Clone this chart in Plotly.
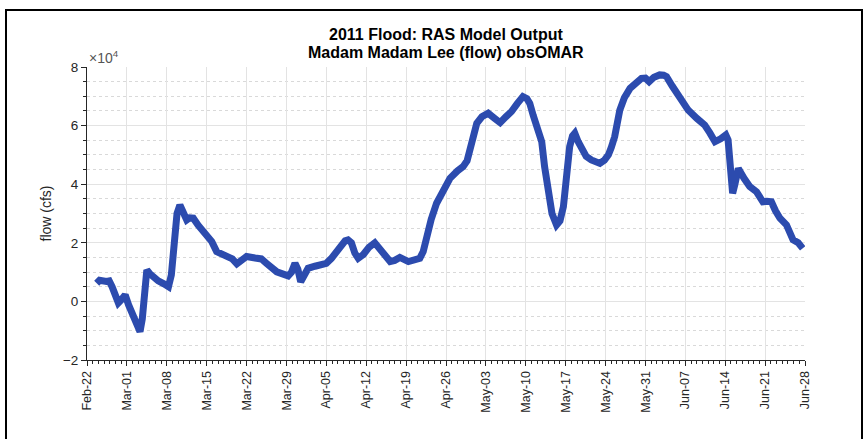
import pandas as pd
import plotly.graph_objects as go

# ---- data ----
start_date = "2011-02-22"
day_offset = [1.7, 2.2, 3.4, 3.9, 4.4, 5.0, 5.5, 6.0, 6.7, 7.3, 8.0, 8.7, 9.3, 9.7, 10.1, 10.5, 11.0, 11.6,
              12.5, 13.5, 14.3, 14.8, 15.3, 15.8, 16.3, 16.8, 17.5, 18.0, 18.65, 19.5, 20.7, 21.9, 22.75,
              24.0, 24.8, 25.5, 26.3, 27.0, 28.0, 29.5, 30.6, 31.5, 32.5, 33.3, 35.3, 35.9, 36.5, 37.0,
              37.5, 38.2, 38.8, 40.0, 40.9, 42.0, 42.9, 44.4, 45.3, 45.8, 46.4, 47.0, 47.6, 48.5, 49.5,
              50.5, 51.5, 53.2, 54.0, 54.9, 56.4, 57.5, 58.4, 59.0, 59.6, 60.4, 61.35, 62.5, 63.7, 65.0,
              66.0, 66.7, 67.2, 68.4, 69.3, 70.4, 71.5, 72.5, 73.5, 74.5, 75.5, 76.5, 77.2, 77.7, 78.3,
              78.9, 79.8, 80.3, 80.9, 81.6, 82.4, 83.0, 83.6, 84.2, 84.7, 85.2, 85.6, 86.2, 86.8, 87.6,
              88.5, 89.3, 90.0, 90.8, 91.5, 92.0, 92.6, 93.5, 94.3, 95.3, 96.3, 97.3, 98.0, 98.65, 99.5,
              100.5, 101.2, 101.7, 102.7, 103.7, 104.6, 105.5, 107.0, 108.4, 109.3, 110.2, 111.2, 112.1,
              112.5, 112.9, 113.3, 113.7, 114.3, 115.3, 116.3, 117.5, 118.6, 119.3, 120.1, 120.8, 121.6,
              122.75, 123.4, 123.9, 124.8, 125.6]
flow_1e4 = [0.62, 0.72, 0.68, 0.70, 0.50, 0.25, -0.05, 0.05, 0.22, -0.12, -0.5, -0.85, -1.03, -0.6, 0.3, 1.07, 0.95, 0.82,
            0.7, 0.6, 0.5, 0.9, 2.0, 3.0, 3.29, 3.1, 2.78, 2.85, 2.84, 2.6, 2.27, 2.04, 1.70,
            1.60, 1.53, 1.45, 1.28, 1.40, 1.53, 1.48, 1.45, 1.30, 1.10, 1.01, 0.87, 1.0, 1.30, 1.1,
            0.67, 0.95, 1.13, 1.20, 1.24, 1.30, 1.47, 1.87, 2.07, 2.10, 2.0, 1.65, 1.47, 1.6, 1.85,
            2.0, 1.75, 1.36, 1.40, 1.50, 1.36, 1.42, 1.47, 1.7, 2.21, 2.8, 3.35, 3.8, 4.20, 4.45,
            4.60, 4.8, 5.17, 6.08, 6.3, 6.42, 6.25, 6.10, 6.3, 6.48, 6.75, 6.99, 6.92, 6.76, 6.35,
            5.96, 5.45, 4.6, 3.80, 3.0, 2.61, 2.75, 3.23, 4.5, 5.28, 5.65, 5.74, 5.45, 5.22, 4.95,
            4.83, 4.75, 4.71, 4.82, 5.0, 5.25, 5.62, 6.53, 6.95, 7.27, 7.47, 7.61, 7.62, 7.50, 7.65,
            7.73, 7.72, 7.67, 7.35, 7.04, 6.78, 6.53, 6.25, 6.02, 5.75, 5.45, 5.55, 5.68,
            5.51, 4.6, 3.69, 4.0, 4.54, 4.2, 3.92, 3.74, 3.40, 3.42, 3.40, 3.1, 2.84,
            2.61, 2.3, 2.10, 2.0, 1.81]
y_ticks = [-2, 0, 2, 4, 6, 8]
title_lines = ["2011 Flood: RAS Model Output", "Madam Madam Lee (flow) obsOMAR"]

dates = pd.Timestamp(start_date) + pd.to_timedelta(day_offset, unit="D")

fig = go.Figure()
fig.add_trace(go.Scatter(x=dates, y=flow_1e4, mode="lines",
                         line=dict(color="#2c4bae", width=7), hoverinfo="skip", showlegend=False))

W, H = 865, 439
L, R, T, B = 87, 60, 67, 79
pw, ph = W - L - R, H - T - B

fig.update_layout(
    width=W, height=H,
    margin=dict(l=L, r=R, t=T, b=B, autoexpand=False),
    paper_bgcolor="white", plot_bgcolor="white",
    font=dict(family="Liberation Sans, Arial, sans-serif", color="#262626", size=12),
)

fig.update_xaxes(
    range=["2011-02-22", "2011-06-28"], automargin=False,
    tick0="2011-02-22", dtick=7 * 86400000, tickformat="%b-%d", tickangle=-90,
    ticks="outside", ticklen=5, tickcolor="#262626",
    showline=True, linecolor="#262626", linewidth=1,
    showgrid=True, gridcolor="#e3e3e3", gridwidth=1, zeroline=False,
    tickfont=dict(size=12.5, color="#262626"),
    minor=dict(dtick=86400000, ticks="outside", ticklen=3, tickcolor="#262626", showgrid=False),
)
fig.update_yaxes(
    range=[-2, 8], tickvals=y_ticks, automargin=False,
    ticks="outside", ticklen=5, tickcolor="#262626",
    showline=True, linecolor="#262626", linewidth=1,
    showgrid=True, gridcolor="#e3e3e3", gridwidth=1, zeroline=False,
    tickfont=dict(size=13.5, color="#262626"),
    title=dict(text="flow (cfs)", font=dict(size=14, color="#262626"), standoff=7),
    minor=dict(dtick=0.5, ticks="outside", ticklen=3, tickcolor="#262626",
               showgrid=True, gridcolor="#d9d9d9", griddash="dot", gridwidth=1),
)

# two-line title, placed as annotations for tighter line spacing
for txt, ypx in zip(title_lines, [35, 53]):
    fig.add_annotation(text="<b>" + txt + "</b>", xref="paper", yref="paper",
                       x=0.5, y=1 + (T - ypx) / ph, xanchor="center", yanchor="middle",
                       showarrow=False, font=dict(size=16, color="black"))

# exponent label
fig.add_annotation(text="×10<sup>4</sup>", xref="paper", yref="paper", x=0, y=1,
                   xanchor="left", yanchor="bottom", showarrow=False, yshift=-1,
                   font=dict(size=14, color="#555555"))

# outer frame of the original figure
fig.add_shape(type="rect", xref="paper", yref="paper",
              x0=(6 - L) / pw, x1=(862 - L) / pw,
              y0=-(B + 10) / ph, y1=1 + (T - 10) / ph,
              line=dict(color="black", width=2), layer="below")

fig.write_html("out.html", config={"displayModeBar": False},
               post_script="document.body.style.margin='0';document.body.style.overflow='hidden';")
